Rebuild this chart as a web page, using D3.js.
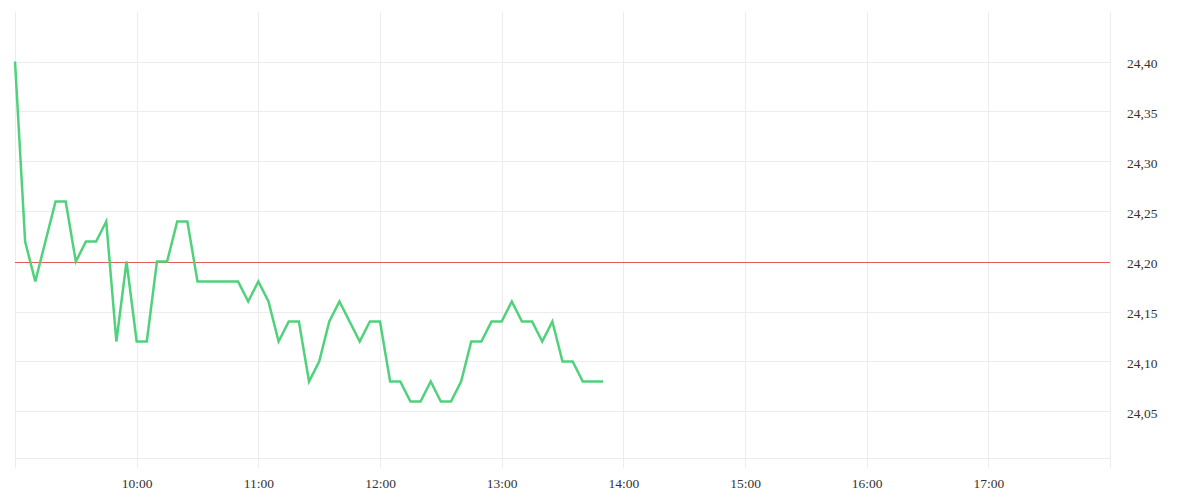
<!DOCTYPE html>
<html>
<head>
<meta charset="utf-8">
<script src="https://cdn.jsdelivr.net/npm/d3@7"></script>
<style>
  html, body { margin: 0; padding: 0; background: #fff; }
  svg { display: block; }
  text { font-family: "Liberation Serif", "Times New Roman", serif; font-size: 13.5px; fill: #333; }
</style>
</head>
<body>
<svg id="chart" width="1200" height="500"></svg>
<script>
// ---- data ----
const times = [
  "09:00","09:05","09:10","09:15","09:20","09:25","09:30","09:35","09:40","09:45","09:50","09:55",
  "10:00","10:05","10:10","10:15","10:20","10:25","10:30","10:35","10:40","10:45","10:50","10:55",
  "11:00","11:05","11:10","11:15","11:20","11:25","11:30","11:35","11:40","11:45","11:50","11:55",
  "12:00","12:05","12:10","12:15","12:20","12:25","12:30","12:35","12:40","12:45","12:50","12:55",
  "13:00","13:05","13:10","13:15","13:20","13:25","13:30","13:35","13:40","13:45","13:50"
];
const prices = [
  24.40,24.22,24.18,24.22,24.26,24.26,24.20,24.22,24.22,24.24,24.12,24.20,
  24.12,24.12,24.20,24.20,24.24,24.24,24.18,24.18,24.18,24.18,24.18,24.16,
  24.18,24.16,24.12,24.14,24.14,24.08,24.10,24.14,24.16,24.14,24.12,24.14,
  24.14,24.08,24.08,24.06,24.06,24.08,24.06,24.06,24.08,24.12,24.12,24.14,
  24.14,24.16,24.14,24.14,24.12,24.14,24.10,24.10,24.08,24.08,24.08
];
const referencePrice = 24.20;
const xTickLabels = ["10:00","11:00","12:00","13:00","14:00","15:00","16:00","17:00"];
const yTicks = [24.05,24.10,24.15,24.20,24.25,24.30,24.35,24.40];
const sessionStart = "09:00";
const sessionEnd = "18:00";
const yDomain = [24.0035, 24.4495];

// ---- setup ----
const svg = d3.select("#chart");
const mLeft = 15, mRight = 1110, mTop = 12, mBottom = 458;
const parse = d3.timeParse("%H:%M");
const fmtTime = d3.timeFormat("%H:%M");

const x = d3.scaleTime()
  .domain([parse(sessionStart), parse(sessionEnd)])
  .range([mLeft, mRight]);
const y = d3.scaleLinear().domain(yDomain).range([mBottom, mTop]);

const grid = svg.append("g");
// horizontal gridlines
grid.selectAll("line.h").data(yTicks.concat([yDomain[0]])).enter().append("line")
  .attr("x1", mLeft).attr("x2", mRight)
  .attr("y1", d => Math.round(y(d)) + 0.5).attr("y2", d => Math.round(y(d)) + 0.5)
  .attr("stroke", "#ececec").attr("stroke-width", 1);
// vertical gridlines
const vTimes = [sessionStart].concat(xTickLabels, [sessionEnd]).map(parse);
grid.selectAll("line.v").data(vTimes).enter().append("line")
  .attr("x1", d => Math.round(x(d)) + 0.5).attr("x2", d => Math.round(x(d)) + 0.5)
  .attr("y1", mTop).attr("y2", mBottom + 10)
  .attr("stroke", "#ececec").attr("stroke-width", 1);

// reference line
svg.append("line")
  .attr("x1", mLeft).attr("x2", mRight)
  .attr("y1", Math.round(y(referencePrice)) + 0.5).attr("y2", Math.round(y(referencePrice)) + 0.5)
  .attr("stroke", "#e55a5a").attr("stroke-width", 1);

// x axis labels
const xAxis = d3.axisBottom(x)
  .tickValues(xTickLabels.map(parse))
  .tickFormat(fmtTime)
  .tickSize(0).tickPadding(0);
const gx = svg.append("g").attr("transform", `translate(0,${mBottom})`).call(xAxis);
gx.select(".domain").remove();
gx.selectAll("text").attr("y", 29.5).attr("dy", 0);

// y axis labels
const yAxis = d3.axisRight(y)
  .tickValues(yTicks)
  .tickFormat(d => d3.format(".2f")(d).replace(".", ","))
  .tickSize(0).tickPadding(0);
const gy = svg.append("g").attr("transform", `translate(${mRight + 17},0)`).call(yAxis);
gy.select(".domain").remove();
gy.selectAll("text").attr("x", 0).attr("dy", "0.42em");
svg.selectAll("g").attr("font-family", null).attr("font-size", null);
svg.selectAll(".tick text").attr("fill", null);

// price line
const line = d3.line()
  .x((d, i) => x(parse(times[i])))
  .y(d => y(d));
svg.append("path")
  .datum(prices)
  .attr("d", line)
  .attr("fill", "none")
  .attr("stroke", "#4fd27b")
  .attr("stroke-width", 2.5)
  .attr("stroke-linejoin", "miter");
</script>
</body>
</html>
